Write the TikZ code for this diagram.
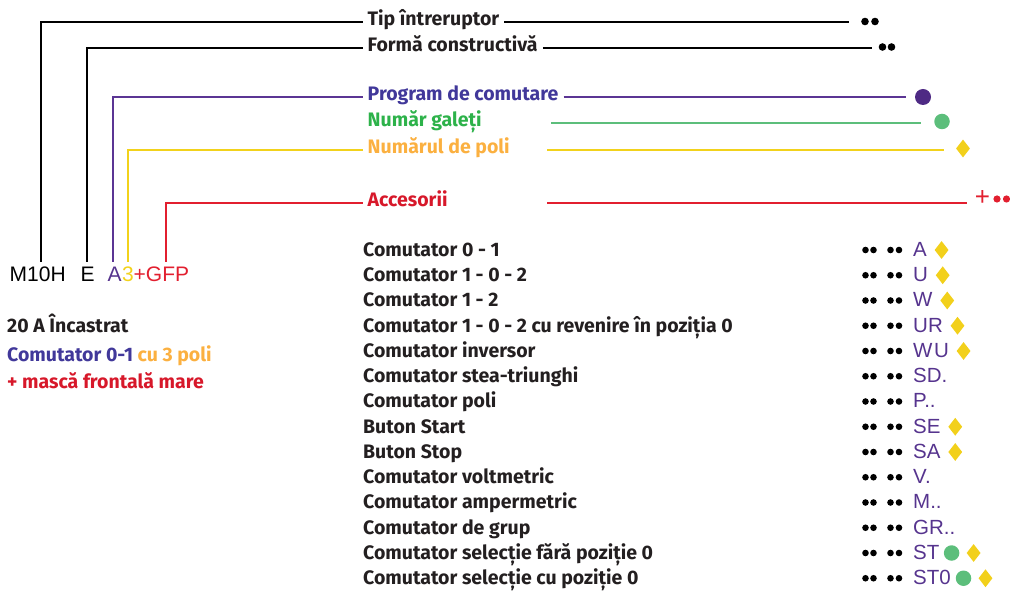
\documentclass[tikz,border=0pt]{standalone}
\usepackage{fontspec}
\setmainfont{Fira Sans}
\newfontfamily\codefont{Liberation Sans}
\usetikzlibrary{shapes.geometric}
\definecolor{txtblack}{HTML}{231F20}
\definecolor{txtpurple}{HTML}{41389A}
\definecolor{txtgreen}{HTML}{2DB24A}
\definecolor{txtorange}{HTML}{FBB040}
\definecolor{txtred}{HTML}{D7182A}
\definecolor{linepurple}{HTML}{5B3594}
\definecolor{linegreen}{HTML}{5CBE7B}
\definecolor{lineyellow}{HTML}{F2D21B}
\definecolor{linered}{HTML}{E21F2F}
\definecolor{codepurple}{HTML}{56348E}
\definecolor{circpurple}{HTML}{4E2A84}
\definecolor{diamyellow}{HTML}{F2D01B}
\begin{document}
\begin{tikzpicture}[x=1pt,y=-1pt,
  toplbl/.style={font=\bfseries\fontsize{19.5}{20}\selectfont, anchor=west, inner xsep=5pt, inner ysep=0pt, text height=12pt, text depth=5pt, text=txtblack},
  lbl/.style={font=\bfseries\fontsize{19.5}{20}\selectfont, anchor=base west, inner sep=0pt, text=txtblack},
  code/.style={font=\codefont\fontsize{20.5}{20}\selectfont, anchor=base west, inner sep=0pt, text=codepurple},
  big/.style={font=\codefont\fontsize{21}{20}\selectfont, anchor=base west, inner sep=0pt, text=black},
  bdot/.style={circle, fill=black, inner sep=0pt, minimum size=6.6pt},
  tdot/.style={circle, fill=black, inner sep=0pt, minimum size=7.6pt},
  rdot/.style={circle, fill=linered, inner sep=0pt, minimum size=7.2pt},
  ydiam/.style={diamond, fill=diamyellow, inner sep=0pt, minimum width=14pt, minimum height=18pt},
  gcirc/.style={circle, fill=linegreen, inner sep=0pt, minimum size=15.5pt},
  wire/.style={line width=2pt},
  bwire/.style={line width=2.3pt, black},
]
\useasboundingbox (0,0) rectangle (1010,593);

% ---- code at the bottom left
\node[big] (m10h) at (9.5,282) {M10H};
\node[big] (ecode) at (80.5,282) {E};
\node[big, text=codepurple] (acode) at (107.5,282) {A};
\node[big, text=lineyellow] (tcode) at (122,282) {3};
\node[big, text=linered] (gfp) at (133.5,282) {+GFP};

\coordinate (b1) at (41,262);
\coordinate (b2) at (87,262);
\coordinate (b3) at (113,262);
\coordinate (b4) at (128,262);
\coordinate (b5) at (166,262);

% ---- top labels
\node[toplbl] (tip) at (362.5,22) {Tip întreruptor};
\node[toplbl] (forma) at (362.5,48) {Formă constructivă};
\node[toplbl, text=txtpurple] (prog) at (362.5,97) {Program de comutare};
\node[toplbl, text=txtgreen] (gal) at (362.5,123.5) {Număr galeți};
\node[toplbl, text=txtorange] (poli) at (362.5,150) {Numărul de poli};
\node[toplbl, text=txtred] (acc) at (362.5,203) {Accesorii};

% ---- left connectors
\draw[bwire] (b1) |- (tip.west);
\draw[bwire] (b2) |- (forma.west);
\draw[wire, linepurple] (b3) |- (prog.west);
\draw[wire, lineyellow] (b4) |- (poli.west);
\draw[wire, linered] (b5) |- (acc.west);

% ---- right markers
\node[tdot] (tipd1) at (865,21.5) {};
\node[tdot] (tipd2) at (875,21.5) {};
\node[tdot] (formd1) at (882.5,47) {};
\node[tdot] (formd2) at (891.5,47) {};
\node[circle, fill=circpurple, inner sep=0pt, minimum size=16pt] (progm) at (923,97) {};
\node[gcirc] (galm) at (942,121.5) {};
\node[ydiam] (polim) at (963,148.5) {};
\node[font=\codefont\fontsize{26}{26}\selectfont, text=linered, inner sep=0pt] (accplus) at (982.5,198.5) {+};
\node[rdot] (accd1) at (997,199) {};
\node[rdot] (accd2) at (1006.5,199) {};

% ---- right connectors
\coordinate (tipend) at (849,22);
\coordinate (formend) at (872,48);
\coordinate (progend) at (906,97);
\coordinate (galstart) at (551,123.5);
\coordinate (galend) at (921,123.5);
\coordinate (polistart) at (547,150);
\coordinate (poliend) at (944,150);
\coordinate (accstart) at (547,203);
\coordinate (accend) at (967,203);
\draw[bwire] (tip.east) -- (tipend);
\draw[bwire] (forma.east) -- (formend);
\draw[wire, linepurple] (prog.east) -- (progend);
\draw[wire, linegreen] (galstart) -- (galend);
\draw[wire, lineyellow] (polistart) -- (poliend);
\draw[wire, linered] (accstart) -- (accend);

% ---- list
\foreach \i/\txt/\cd in {
  0/{Comutator 0 - 1}/{A},
  1/{Comutator 1 - 0 - 2}/{U},
  2/{Comutator 1 - 2}/{W},
  3/{Comutator 1 - 0 - 2 cu revenire în poziția 0}/{UR},
  4/{Comutator inversor}/{W\kern1.5pt U},
  5/{Comutator stea-triunghi}/{SD.},
  6/{Comutator poli}/{P..},
  7/{Buton Start}/{SE},
  8/{Buton Stop}/{SA},
  9/{Comutator voltmetric}/{V.},
  10/{Comutator ampermetric}/{M..},
  11/{Comutator de grup}/{GR..},
  12/{Comutator selecție fără poziție 0}/{ST},
  13/{Comutator selecție cu poziție 0}/{ST0}} {
  \pgfmathsetmacro{\yy}{256.5+25.25*\i}
  \node[lbl] (item\i) at (363,\yy) {\txt};
  \node[code] (code\i) at (913,\yy) {\cd};
  \node[bdot] (da\i) at (865.5,\yy-6.5) {};
  \node[bdot] (db\i) at (873.5,\yy-6.5) {};
  \node[bdot] (dc\i) at (890.5,\yy-6.5) {};
  \node[bdot] (dd\i) at (899,\yy-6.5) {};
}
% diamonds after codes
\foreach \i in {0,1,2,3,4,7,8} {
  \node[ydiam] (dm\i) at ([xshift=14.5pt, yshift=6.5pt]code\i.base east) {};
}
\node[gcirc] (gc12) at ([xshift=12pt, yshift=6.5pt]code12.base east) {};
\node[ydiam] (dm12) at ([xshift=22pt]gc12.center) {};
\node[gcirc] (gc13) at ([xshift=12.5pt, yshift=6.5pt]code13.base east) {};
\node[ydiam] (dm13) at ([xshift=22pt]gc13.center) {};

% ---- lower-left description
\node[lbl] (desc1) at (7,333) {20 A Încastrat};
\node[lbl, text=txtpurple] (desc2) at (7,361.5) {Comutator 0-1 \textcolor{txtorange}{cu 3 poli}};
\node[lbl, text=txtred] (desc3) at (7,388.5) {+ mască frontală mare};
\end{tikzpicture}
\end{document}
